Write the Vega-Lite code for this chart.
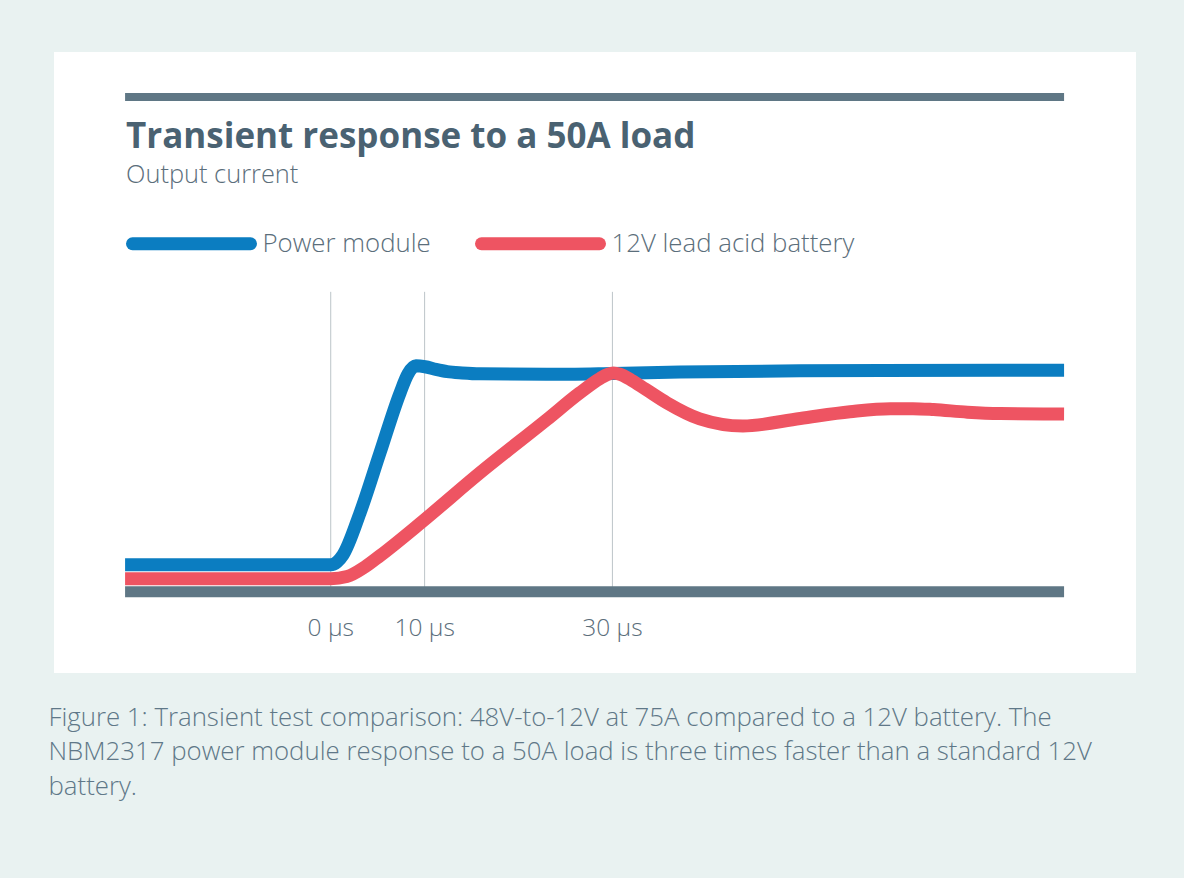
{
  "$schema": "https://vega.github.io/schema/vega-lite/v6.json",
  "width": 1082,
  "height": 621,
  "autosize": {"type": "none"},
  "padding": {"left": 54, "top": 52, "right": 48, "bottom": 205},
  "background": "#e9f2f1",
  "view": {"fill": "#ffffff", "stroke": null},
  "config": {"font": "Open Sans", "view": {"stroke": null}},
  "title": {
    "text": "Transient response to a 50A load",
    "subtitle": "Output current",
    "anchor": "start",
    "frame": "group",
    "orient": "top",
    "offset": 0,
    "dx": 72,
    "dy": 136,
    "font": "Open Sans",
    "fontSize": 35,
    "fontWeight": "bold",
    "color": "#4a6272",
    "subtitleFont": "Open Sans",
    "subtitleFontSize": 25.4,
    "subtitleFontWeight": 300,
    "subtitleColor": "#5b6e7b",
    "subtitlePadding": 8
  },
  "datasets": {
    "current": [
      {"series": "Power module", "t": -21.9, "current": 6.06},
      {"series": "Power module", "t": 0, "current": 6.06},
      {"series": "Power module", "t": 0.67, "current": 6.7},
      {"series": "Power module", "t": 1.31, "current": 8.3},
      {"series": "Power module", "t": 3.12, "current": 17.7},
      {"series": "Power module", "t": 5.25, "current": 31.2},
      {"series": "Power module", "t": 7.38, "current": 44.6},
      {"series": "Power module", "t": 8.23, "current": 48.9},
      {"series": "Power module", "t": 9.08, "current": 50.7},
      {"series": "Power module", "t": 10.04, "current": 50.5},
      {"series": "Power module", "t": 11.2, "current": 49.9},
      {"series": "Power module", "t": 12.4, "current": 49.4},
      {"series": "Power module", "t": 14.0, "current": 49.1},
      {"series": "Power module", "t": 15.9, "current": 48.9},
      {"series": "Power module", "t": 23.0, "current": 48.8},
      {"series": "Power module", "t": 30.1, "current": 49.0},
      {"series": "Power module", "t": 37.2, "current": 49.3},
      {"series": "Power module", "t": 50.0, "current": 49.6},
      {"series": "Power module", "t": 71.3, "current": 49.7},
      {"series": "Power module", "t": 78.1, "current": 49.7},
      {"series": "12V lead acid battery", "t": -21.9, "current": 2.96},
      {"series": "12V lead acid battery", "t": 0, "current": 2.96},
      {"series": "12V lead acid battery", "t": 1.73, "current": 3.43},
      {"series": "12V lead acid battery", "t": 3.65, "current": 5.6},
      {"series": "12V lead acid battery", "t": 5.25, "current": 8.1},
      {"series": "12V lead acid battery", "t": 9.83, "current": 15.9},
      {"series": "12V lead acid battery", "t": 15.9, "current": 26.7},
      {"series": "12V lead acid battery", "t": 23.0, "current": 38.6},
      {"series": "12V lead acid battery", "t": 26.5, "current": 44.6},
      {"series": "12V lead acid battery", "t": 28.7, "current": 47.9},
      {"series": "12V lead acid battery", "t": 29.5, "current": 48.8},
      {"series": "12V lead acid battery", "t": 30.1, "current": 49.1},
      {"series": "12V lead acid battery", "t": 30.8, "current": 48.8},
      {"series": "12V lead acid battery", "t": 32.0, "current": 47.5},
      {"series": "12V lead acid battery", "t": 33.5, "current": 45.5},
      {"series": "12V lead acid battery", "t": 35.8, "current": 42.4},
      {"series": "12V lead acid battery", "t": 39.3, "current": 38.8},
      {"series": "12V lead acid battery", "t": 43.9, "current": 37.2},
      {"series": "12V lead acid battery", "t": 50.0, "current": 38.9},
      {"series": "12V lead acid battery", "t": 55.3, "current": 40.4},
      {"series": "12V lead acid battery", "t": 59.6, "current": 41.1},
      {"series": "12V lead acid battery", "t": 62.0, "current": 41.1},
      {"series": "12V lead acid battery", "t": 64.2, "current": 40.9},
      {"series": "12V lead acid battery", "t": 67.8, "current": 40.3},
      {"series": "12V lead acid battery", "t": 71.3, "current": 40.0},
      {"series": "12V lead acid battery", "t": 78.1, "current": 39.9}
    ],
    "ticks": [
      {"t": 0, "label": "0 µs"},
      {"t": 10, "label": "10 µs"},
      {"t": 30, "label": "30 µs"}
    ]
  },
  "layer": [
    {
      "data": {"name": "ticks"},
      "mark": {"type": "rule", "color": "#bcc4c8", "strokeWidth": 1},
      "encoding": {
        "x": {"field": "t", "type": "quantitative", "scale": {"domain": [-29.47, 85.76], "nice": false, "zero": false},
          "axis": {
            "domain": false, "ticks": false, "labels": false, "grid": false,
            "title": ["Figure 1: Transient test comparison: 48V-to-12V at 75A compared to a 12V battery. The", "NBM2317 power module response to a 50A load is three times faster than a standard 12V", "battery."],
            "titleAnchor": "start", "titleAlign": "left", "titleX": -6, "titleY": 52,
            "titleBaseline": "alphabetic", "titleFont": "Open Sans", "titleFontSize": 25.8,
            "titleFontWeight": 300, "titleColor": "#5f7888", "titleLineHeight": 34.5, "titleLimit": 2000
          }},
        "y": {"datum": 0, "type": "quantitative", "scale": {"domain": [-18.2, 121.1], "nice": false, "zero": false}, "axis": null},
        "y2": {"datum": 67.3}
      }
    },
    {
      "data": {"name": "current"},
      "mark": {"type": "rule", "color": "#5f7785", "strokeWidth": 11},
      "encoding": {
        "x": {"aggregate": "min", "field": "t", "type": "quantitative"},
        "x2": {"aggregate": "max", "field": "t"},
        "y": {"datum": 0, "type": "quantitative"}
      }
    },
    {
      "data": {"name": "current"},
      "mark": {"type": "rule", "color": "#5f7785", "strokeWidth": 8},
      "encoding": {
        "x": {"aggregate": "min", "field": "t", "type": "quantitative"},
        "x2": {"aggregate": "max", "field": "t"},
        "y": {"datum": 111.0, "type": "quantitative"}
      }
    },
    {
      "data": {"name": "ticks"},
      "mark": {"type": "text", "font": "Open Sans", "fontSize": 24.5, "fontWeight": 300, "color": "#5b6e7b", "align": "center", "baseline": "alphabetic"},
      "encoding": {
        "x": {"field": "t", "type": "quantitative"},
        "y": {"datum": -9.9, "type": "quantitative"},
        "text": {"field": "label"}
      }
    },
    {
      "data": {"name": "current"},
      "mark": {"type": "line", "strokeWidth": 13, "interpolate": "monotone", "strokeCap": "butt"},
      "encoding": {
        "x": {"field": "t", "type": "quantitative"},
        "y": {"field": "current", "type": "quantitative"},
        "color": {
          "field": "series", "type": "nominal",
          "scale": {"domain": ["Power module", "12V lead acid battery"], "range": ["#0b7dc1", "#ee5462"]},
          "legend": {
            "title": null, "orient": "none", "direction": "horizontal",
            "legendX": 72, "legendY": 126,
            "symbolType": "stroke", "symbolSize": 13924, "symbolStrokeWidth": 13,
            "labelFont": "Open Sans", "labelFontSize": 25.8, "labelFontWeight": 300, "labelColor": "#5b6e7b",
            "labelOffset": 5.5, "labelLimit": 1000, "columnPadding": 24, "padding": 0,
            "encoding": {"symbols": {"strokeCap": {"value": "round"}}}
          }
        }
      }
    }
  ]
}
